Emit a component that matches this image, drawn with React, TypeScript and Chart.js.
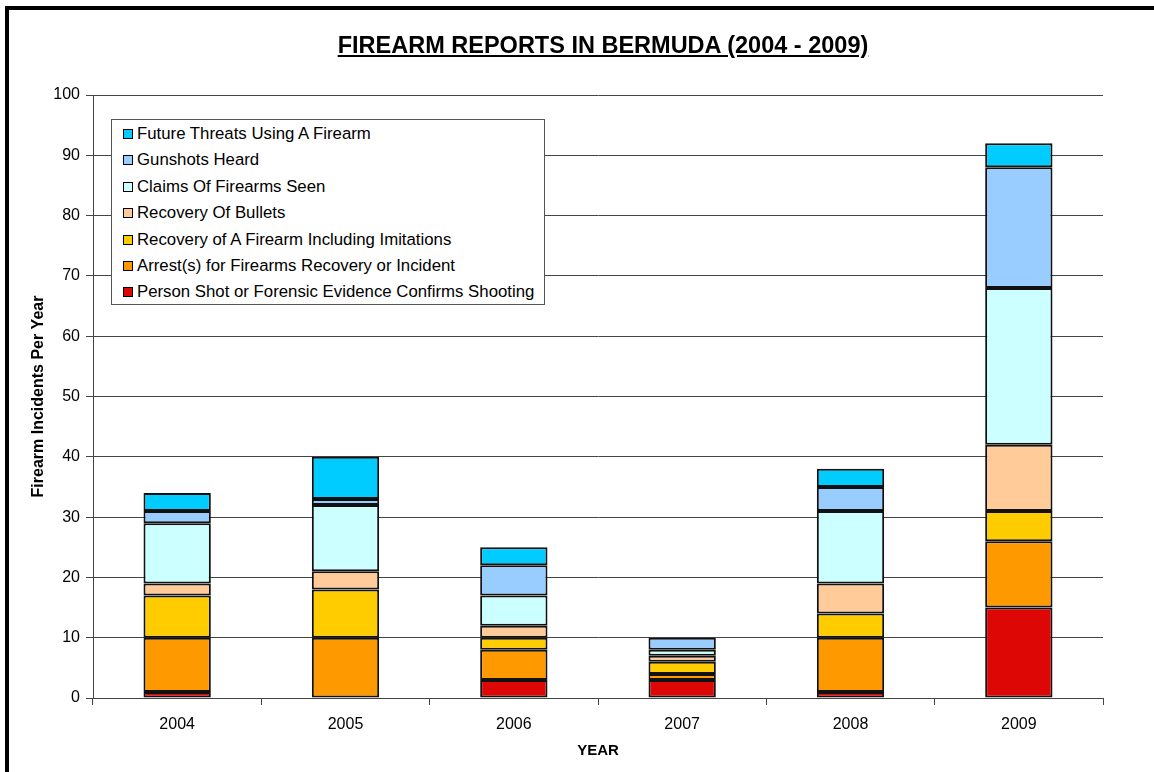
import { useEffect, useRef } from 'react';
import { Chart, registerables } from 'chart.js';

Chart.register(...registerables);

const years = ['2004', '2005', '2006', '2007', '2008', '2009'];

// stack order, bottom to top
const personShot = [1, 0, 3, 3, 1, 15];
const arrests = [9, 10, 5, 1, 9, 11];
const firearmRecovered = [7, 8, 2, 2, 4, 5];
const bulletsRecovered = [2, 3, 2, 1, 5, 11];
const firearmsSeen = [10, 11, 5, 1, 12, 26];
const gunshotsHeard = [2, 1, 5, 2, 4, 20];
const futureThreats = [3, 7, 3, 0, 3, 4];

const seriesNames = [
  'Person Shot or Forensic Evidence Confirms Shooting',
  'Arrest(s) for Firearms Recovery or Incident',
  'Recovery of A Firearm Including Imitations',
  'Recovery Of Bullets',
  'Claims Of Firearms Seen',
  'Gunshots Heard',
  'Future Threats Using A Firearm',
];
const seriesValues = [personShot, arrests, firearmRecovered, bulletsRecovered, firearmsSeen, gunshotsHeard, futureThreats];
const seriesColors = ['#DD0806', '#FF9900', '#FFCC00', '#FFCC99', '#CCFFFF', '#99CCFF', '#00CCFF'];

const FONT = '"Liberation Sans", Arial, sans-serif';

export default function App() {
  const canvasRef = useRef<HTMLCanvasElement>(null);
  const chartRef = useRef<Chart | null>(null);

  useEffect(() => {
    if (!canvasRef.current) return;
    if (chartRef.current) chartRef.current.destroy();
    const ctx = canvasRef.current.getContext('2d');
    if (!ctx) return;

    chartRef.current = new Chart(ctx, {
      type: 'bar',
      data: {
        labels: years,
        datasets: seriesNames.map((name, i) => ({
          label: name,
          data: seriesValues[i],
          backgroundColor: seriesColors[i],
          borderColor: '#111',
          borderWidth: 2,
          borderSkipped: false,
          barPercentage: 0.4,
          categoryPercentage: 1,
        })),
      },
      options: {
        responsive: false,
        animation: false,
        layout: { padding: { left: 0, top: 95, right: 51, bottom: 0 } },
        plugins: {
          legend: { display: false },
          tooltip: { enabled: false },
        },
        scales: {
          x: {
            stacked: true,
            afterFit: (scale: any) => { scale.height = 74; },
            grid: { drawOnChartArea: false, drawTicks: true, tickLength: 7, color: '#444', offset: true },
            border: { color: '#444' },
            ticks: { color: '#000', padding: 10, font: { family: FONT, size: 16 } },
            title: {
              display: true,
              text: 'YEAR',
              color: '#000',
              padding: { top: 0, bottom: 12 },
              font: { family: FONT, size: 15, weight: 'bold' },
            },
          },
          y: {
            stacked: true,
            min: 0,
            max: 100,
            afterFit: (scale: any) => { scale.width = 93; },
            grid: { color: '#444', tickLength: 7 },
            border: { color: '#444' },
            ticks: { stepSize: 10, color: '#000', padding: 6, font: { family: FONT, size: 16 } },
            title: {
              display: true,
              text: 'Firearm Incidents Per Year',
              color: '#000',
              padding: { top: 29, bottom: 0 },
              font: { family: FONT, size: 16, weight: 'bold' },
            },
          },
        },
      },
    });

    return () => { chartRef.current?.destroy(); chartRef.current = null; };
  }, []);

  return (
    <div style={{ position: 'fixed', left: 0, top: 0, width: 1154, height: 772, background: '#fff', overflow: 'hidden', fontFamily: FONT }}>
      <div style={{ position: 'absolute', left: 5, top: 6, width: 2000, height: 2000, borderLeft: '4px solid #000', borderTop: '4px solid #000' }} />
      <canvas ref={canvasRef} width={1154} height={772} style={{ position: 'absolute', left: 0, top: 0, width: 1154, height: 772 }} />
      <div style={{ position: 'absolute', left: 0, top: 32, width: 1206, textAlign: 'center', fontSize: 23.5, fontWeight: 'bold', textDecoration: 'underline', color: '#000' }}>
        FIREARM REPORTS IN BERMUDA (2004 - 2009)
      </div>
      <div style={{ position: 'absolute', left: 111, top: 119, width: 432, height: 184, border: '1px solid #555', background: '#fff', boxSizing: 'content-box' }}>
        {seriesNames.map((_, k) => {
          const i = seriesNames.length - 1 - k;
          return (
            <div key={i} style={{ position: 'absolute', left: 11, top: 3 + k * 26.4, height: 22, display: 'flex', alignItems: 'center', whiteSpace: 'nowrap', fontSize: 16.8, color: '#000' }}>
              <span style={{ display: 'inline-block', width: 8, height: 8, border: '1.5px solid #000', background: seriesColors[i], marginRight: 4 }} />
              {seriesNames[i]}
            </div>
          );
        })}
      </div>
    </div>
  );
}
